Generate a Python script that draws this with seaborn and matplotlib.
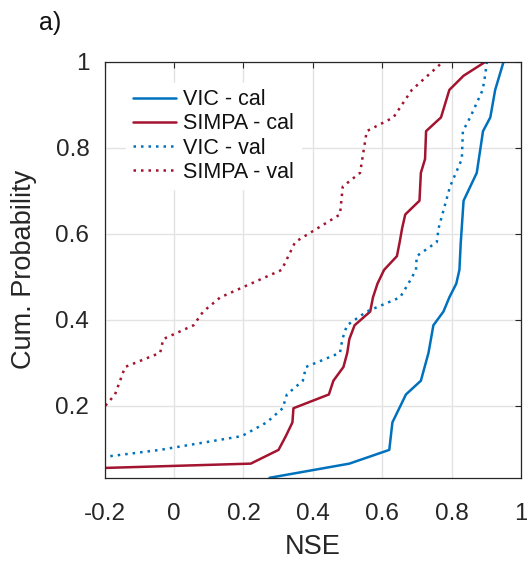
import pandas as pd
import seaborn as sns
import matplotlib.pyplot as plt

# vertices (NSE, cumulative probability)
vic_cal_nse = [0.275, 0.505, 0.620, 0.629, 0.668, 0.711, 0.733, 0.747, 0.776, 0.793,
               0.813, 0.822, 0.826, 0.834, 0.872, 0.890, 0.911, 0.925, 0.949]
vic_cal_prob = [0.032, 0.065, 0.097, 0.161, 0.226, 0.258, 0.323, 0.387, 0.419, 0.452,
                0.484, 0.516, 0.581, 0.677, 0.742, 0.839, 0.871, 0.935, 1.000]

simpa_cal_nse = [-1.16, 0.221, 0.301, 0.322, 0.341, 0.344, 0.446, 0.459, 0.488, 0.499,
                 0.505, 0.520, 0.565, 0.573, 0.586, 0.605, 0.642, 0.650, 0.657, 0.666,
                 0.707, 0.711, 0.723, 0.726, 0.769, 0.793, 0.834, 0.896]
simpa_cal_prob = [0.032, 0.065, 0.097, 0.129, 0.161, 0.194, 0.226, 0.258, 0.290, 0.323,
                  0.355, 0.387, 0.419, 0.452, 0.484, 0.516, 0.548, 0.581, 0.613, 0.645,
                  0.677, 0.742, 0.774, 0.839, 0.871, 0.935, 0.968, 1.000]

vic_val_nse = [-0.60, -0.356, -0.04, 0.195, 0.267, 0.313, 0.325, 0.371, 0.380, 0.478,
               0.485, 0.498, 0.555, 0.651, 0.675, 0.697, 0.699, 0.757, 0.762, 0.795,
               0.829, 0.832, 0.853, 0.889, 0.896, 0.901]
vic_val_prob = [0.032, 0.065, 0.097, 0.129, 0.161, 0.194, 0.226, 0.258, 0.290, 0.323,
                0.355, 0.387, 0.419, 0.452, 0.484, 0.516, 0.548, 0.581, 0.613, 0.710,
                0.774, 0.839, 0.871, 0.935, 0.968, 1.000]

simpa_val_nse = [-1.60, -1.00, -0.70, -0.45, -0.30, -0.204, -0.170, -0.141, -0.040, -0.031,
                 0.056, 0.084, 0.133, 0.310, 0.349, 0.478, 0.486, 0.536, 0.555, 0.632,
                 0.685, 0.774]
simpa_val_prob = [0.032, 0.065, 0.097, 0.129, 0.161, 0.194, 0.226, 0.290, 0.323, 0.355,
                  0.387, 0.419, 0.452, 0.516, 0.581, 0.645, 0.710, 0.742, 0.839, 0.871,
                  0.935, 1.000]

series_labels = ['VIC - cal', 'SIMPA - cal', 'VIC - val', 'SIMPA - val']
xtick_vals = [-0.2, 0, 0.2, 0.4, 0.6, 0.8, 1]
xtick_labels = ['-0.2', '0', '0.2', '0.4', '0.6', '0.8', '1']
ytick_vals = [0.2, 0.4, 0.6, 0.8, 1]
ytick_labels = ['0.2', '0.4', '0.6', '0.8', '1']

blue = '#0072BD'
red = '#A2142F'

sns.set_theme(style='whitegrid')
plt.rcParams['font.family'] = ['Liberation Sans', 'DejaVu Sans']
plt.rcParams['axes.edgecolor'] = '#262626'
plt.rcParams['grid.color'] = '#e3e3e3'
plt.rcParams['grid.linewidth'] = 1.0

fig = plt.figure(figsize=(5.27, 5.61), dpi=100)
ax = fig.add_axes([0.1985, 0.1485, 0.7905, 0.741])

curves = [
    (vic_cal_nse, vic_cal_prob, blue, '-'),
    (simpa_cal_nse, simpa_cal_prob, red, '-'),
    (vic_val_nse, vic_val_prob, blue, (0, (1, 2))),
    (simpa_val_nse, simpa_val_prob, red, (0, (1, 2))),
]
for (xs, ys, col, ls), lab in zip(curves, series_labels):
    df = pd.DataFrame({'NSE': xs, 'prob': ys})
    sns.lineplot(data=df, x='NSE', y='prob', sort=False, estimator=None,
                 color=col, linestyle=ls, lw=1.8, label=lab, ax=ax)

ax.set_xlim(-0.2, 1)
ax.set_ylim(1 / 31, 1)
ax.set_xticks(xtick_vals)
ax.set_xticklabels(xtick_labels)
ax.set_yticks(ytick_vals)
ax.set_yticklabels(ytick_labels)
ax.tick_params(direction='in', length=4, width=0.8, color='#262626',
               top=True, right=True, labelsize=17.5, labelcolor='#262626')
ax.tick_params(axis='x', pad=18)
ax.tick_params(axis='y', pad=11)
for sp in ax.spines.values():
    sp.set_linewidth(0.9)

ax.set_xlabel('NSE', fontsize=19.5, color='#262626', labelpad=7)
ax.set_ylabel('Cum. Probability', fontsize=19.5, color='#262626', labelpad=13)

leg = ax.legend(loc='upper left', bbox_to_anchor=(0.052, 0.95), fontsize=15.5,
                frameon=True, framealpha=1, edgecolor='white', fancybox=False,
                handlelength=2.0, handletextpad=0.35, labelspacing=0.15,
                borderpad=0.3, borderaxespad=0)
for t in leg.get_texts():
    t.set_color('#111111')

fig.text(0.074, 1 - 23 / 561, 'a)', fontsize=18, va='center', ha='left', color='#111111')

plt.savefig('out.png', dpi=100)
